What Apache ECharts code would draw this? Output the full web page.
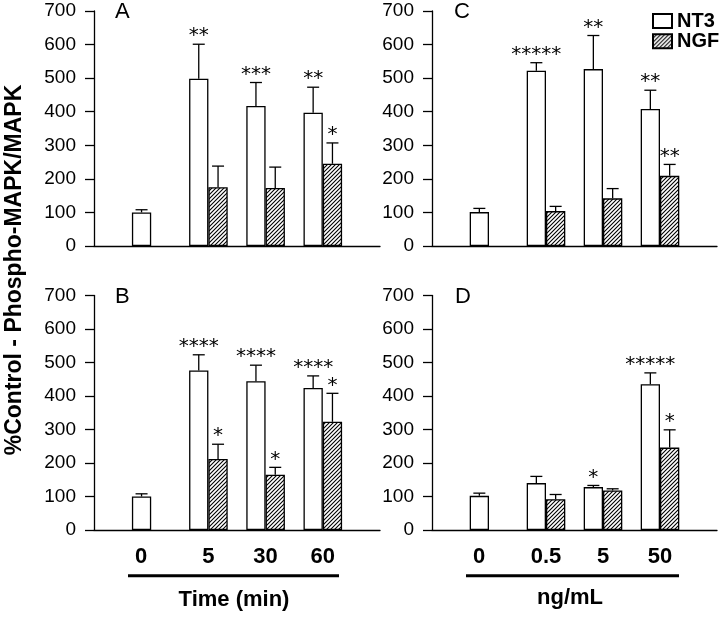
<!DOCTYPE html>
<html>
<head>
<meta charset="utf-8">
<script src="https://cdn.jsdelivr.net/npm/echarts@6/dist/echarts.min.js"></script>
<style>
  html, body { margin: 0; padding: 0; background: #fff; }
  #main { width: 720px; height: 617px; }
</style>
</head>
<body>
<div id="main"></div>
<script>
// categories
var timeCats = ['0', '5', '30', '60'];
var doseCats = ['0', '0.5', '5', '50'];

// panel A - time course
var aNt3 = [100, 498, 417, 397];
var aNt3Err = [8, 103, 70, 76];
var aNgf = [null, 175, 173, 245];
var aNgfErr = [null, 63, 62, 62];
var aNt3Sig = ['', '**', '***', '**'];
var aNgfSig = ['', '', '', '*'];

// panel B - time course
var bNt3 = [100, 476, 444, 424];
var bNt3Err = [8, 47, 48, 36];
var bNgf = [null, 212, 165, 323];
var bNgfErr = [null, 44, 22, 85];
var bNt3Sig = ['', '****', '****', '****'];
var bNgfSig = ['', '*', '*', '*'];

// panel C - dose
var cNt3 = [101, 522, 527, 408];
var cNt3Err = [11, 24, 100, 56];
var cNgf = [null, 104, 142, 209];
var cNgfErr = [null, 14, 29, 34];
var cNt3Sig = ['', '*****', '**', '**'];
var cNgfSig = ['', '', '', '**'];

// panel D - dose
var dNt3 = [102, 140, 128, 435];
var dNt3Err = [8, 20, 5, 34];
var dNgf = [null, 92, 118, 246];
var dNgfErr = [null, 14, 5, 53];
var dNt3Sig = ['', '', '*', '*****'];
var dNgfSig = ['', '', '', '*'];

var yTicks = { min: 0, max: 700, step: 100 };

var BAR_W = 19.3;
var CAP = 6;
var FONT = '"Liberation Sans", Arial, Helvetica, sans-serif';

// hatch pattern for NGF
var tile = document.createElement('canvas');
tile.width = 4; tile.height = 4;
var tc = tile.getContext('2d');
tc.fillStyle = '#fff';
tc.fillRect(0, 0, 4, 4);
tc.strokeStyle = '#000';
tc.lineWidth = 1.1;
tc.beginPath();
tc.moveTo(-1, 5); tc.lineTo(5, -1);
tc.moveTo(-3, 3); tc.lineTo(3, -3);
tc.moveTo(1, 7); tc.lineTo(7, 1);
tc.stroke();
var hatch = { image: tile, repeat: 'repeat' };

var panels = [
  { grid: { left: 94, top: 11, width: 286, height: 235 }, cats: timeCats, bottom: false,
    nt3: aNt3, nt3Err: aNt3Err, ngf: aNgf, ngfErr: aNgfErr, nt3Sig: aNt3Sig, ngfSig: aNgfSig },
  { grid: { left: 94, top: 295.5, width: 286, height: 234.5 }, cats: timeCats, bottom: true,
    nt3: bNt3, nt3Err: bNt3Err, ngf: bNgf, ngfErr: bNgfErr, nt3Sig: bNt3Sig, ngfSig: bNgfSig },
  { grid: { left: 432, top: 11, width: 285, height: 235 }, cats: doseCats, bottom: false,
    nt3: cNt3, nt3Err: cNt3Err, ngf: cNgf, ngfErr: cNgfErr, nt3Sig: cNt3Sig, ngfSig: cNgfSig },
  { grid: { left: 432, top: 295.5, width: 285, height: 234.5 }, cats: doseCats, bottom: true,
    nt3: dNt3, nt3Err: dNt3Err, ngf: dNgf, ngfErr: dNgfErr, nt3Sig: dNt3Sig, ngfSig: dNgfSig }
];

function pad(arr) { return [null].concat(arr, [null]); }

function errSeries(idx, vals, errs, sigs, side) {
  var items = [];
  var marks = [];
  vals.forEach(function (v, i) {
    if (v == null) return;
    items.push([i + 1, v, v + errs[i]]);
    marks.push(sigs[i]);
  });
  return {
    type: 'custom',
    xAxisIndex: idx, yAxisIndex: idx,
    silent: true,
    encode: { x: 0, y: [1, 2] },
    data: items,
    z: 5,
    renderItem: function (params, api) {
      var p0 = api.coord([api.value(0), api.value(1)]);
      var p1 = api.coord([api.value(0), api.value(2)]);
      var cx = p0[0] + side * BAR_W / 2;
      var ls = { stroke: '#000', lineWidth: 1.3 };
      var kids = [
        { type: 'line', shape: { x1: cx, y1: p0[1], x2: cx, y2: p1[1] }, style: ls },
        { type: 'line', shape: { x1: cx - CAP, y1: p1[1], x2: cx + CAP, y2: p1[1] }, style: ls }
      ];
      var s = marks[params.dataIndex];
      if (s) {
        kids.push({
          type: 'text', x: cx, y: p1[1] + 2,
          style: { text: s, fill: '#000', fontSize: 20, fontFamily: '"DejaVu Sans", sans-serif',
                   align: 'center', verticalAlign: 'bottom' }
        });
      }
      return { type: 'group', children: kids };
    }
  };
}

var grids = [], xAxes = [], yAxes = [], series = [];

panels.forEach(function (p, i) {
  grids.push(Object.assign({ outerBoundsMode: 'none', containLabel: false }, p.grid));
  var catData = [''].concat(p.cats.map(function (c, k) {
    return k === 0 ? { value: c, textStyle: { padding: [0, 20, 0, 0] } } : c;
  }), ['']);
  xAxes.push({
    type: 'category', gridIndex: i, data: catData, boundaryGap: false,
    axisLine: { show: true, onZero: false, lineStyle: { color: '#000', width: 1.3 } },
    axisTick: { show: false },
    axisLabel: { show: p.bottom, interval: 0, fontSize: 22, fontWeight: 'bold', color: '#000',
                 margin: 16, fontFamily: FONT },
    splitLine: { show: false }
  });
  yAxes.push({
    type: 'value', gridIndex: i, min: yTicks.min, max: yTicks.max, interval: yTicks.step,
    axisLine: { show: true, lineStyle: { color: '#000', width: 1.3 } },
    axisTick: { show: true, length: 9, lineStyle: { color: '#000', width: 1.3 } },
    axisLabel: { fontSize: 19, color: '#000', margin: 18, fontFamily: FONT },
    splitLine: { show: false }
  });
  series.push({
    name: 'NT3', type: 'bar', xAxisIndex: i, yAxisIndex: i,
    data: pad(p.nt3), barWidth: BAR_W, barGap: '0%',
    itemStyle: { color: '#fff', borderColor: '#000', borderWidth: 1.3 },
    silent: true
  });
  series.push({
    name: 'NGF', type: 'bar', xAxisIndex: i, yAxisIndex: i,
    data: pad(p.ngf), barWidth: BAR_W, barGap: '0%',
    itemStyle: { color: hatch, borderColor: '#000', borderWidth: 1.3 },
    silent: true
  });
  series.push(errSeries(i, p.nt3, p.nt3Err, p.nt3Sig, -1));
  series.push(errSeries(i, p.ngf, p.ngfErr, p.ngfSig, 1));
});

var chart = echarts.init(document.getElementById('main'), null, { renderer: 'canvas' });

var option = {
  backgroundColor: '#fff',
  animation: false,
  legend: {
    data: ['NT3', 'NGF'],
    orient: 'vertical',
    left: 652, top: 11,
    padding: 0,
    icon: 'rect',
    itemWidth: 19, itemHeight: 14, itemGap: 0.3,
    selectedMode: false,
    textStyle: { fontSize: 20, fontWeight: 'bold', color: '#000', fontFamily: FONT, lineHeight: 17 }
  },
  grid: grids,
  xAxis: xAxes,
  yAxis: yAxes,
  series: series,
  graphic: [
    { type: 'text', x: 15, y: 270, rotation: Math.PI / 2,
      style: { text: '%Control - Phospho-MAPK/MAPK', fontSize: 23, fontWeight: 'bold',
               fontFamily: FONT, fill: '#000', align: 'center', verticalAlign: 'middle' } },
    { type: 'text', x: 115, y: 1, style: { text: 'A', fontSize: 22, fontFamily: FONT, fill: '#000' } },
    { type: 'text', x: 115, y: 286, style: { text: 'B', fontSize: 22, fontFamily: FONT, fill: '#000' } },
    { type: 'text', x: 454, y: 1, style: { text: 'C', fontSize: 22, fontFamily: FONT, fill: '#000' } },
    { type: 'text', x: 455, y: 286, style: { text: 'D', fontSize: 22, fontFamily: FONT, fill: '#000' } },
    { type: 'line', shape: { x1: 128, y1: 575.7, x2: 339, y2: 575.7 }, style: { stroke: '#000', lineWidth: 3 } },
    { type: 'line', shape: { x1: 466, y1: 575.7, x2: 679, y2: 575.7 }, style: { stroke: '#000', lineWidth: 3 } },
    { type: 'text', x: 234, y: 600,
      style: { text: 'Time (min)', fontSize: 22, fontWeight: 'bold', fontFamily: FONT, fill: '#000',
               align: 'center', verticalAlign: 'middle' } },
    { type: 'text', x: 570, y: 598,
      style: { text: 'ng/mL', fontSize: 22, fontWeight: 'bold', fontFamily: FONT, fill: '#000',
               align: 'center', verticalAlign: 'middle' } }
  ]
};

chart.setOption(option);
</script>
</body>
</html>
